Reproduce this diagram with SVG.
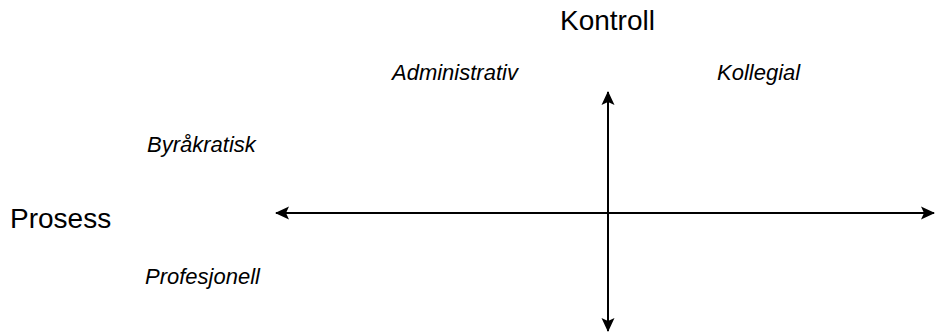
<svg xmlns="http://www.w3.org/2000/svg" width="935" height="333" viewBox="0 0 935 333">
<defs>
<style>
.t{font-family:"Liberation Sans",Arial,sans-serif;fill:#000}
.big{font-size:28px}
.it{font-size:22px;font-style:italic}
.ax{stroke:#000;stroke-width:2;fill:none}
</style>
<marker id="ah" viewBox="0 0 14 14" refX="13" refY="7" markerWidth="14" markerHeight="14" markerUnits="userSpaceOnUse" orient="auto-start-reverse">
<path d="M0,0.5 L14,7 L0,13.5 L3,7 Z" fill="#000"/>
</marker>
</defs>
<g id="connectors">
<line class="ax" x1="276" y1="213" x2="934" y2="213" marker-start="url(#ah)" marker-end="url(#ah)"/>
<line class="ax" x1="608" y1="92" x2="608" y2="331" marker-start="url(#ah)" marker-end="url(#ah)"/>
</g>
<g id="kontroll"><text class="t big" x="560" y="30">Kontroll</text></g>
<g id="prosess"><text class="t big" x="10" y="228">Prosess</text></g>
<g id="administrativ"><text class="t it" x="392" y="80">Administrativ</text></g>
<g id="kollegial"><text class="t it" x="717" y="80">Kollegial</text></g>
<g id="byrakratisk"><text class="t it" x="147" y="152">Byråkratisk</text></g>
<g id="profesjonell"><text class="t it" x="145" y="284">Profesjonell</text></g>
</svg>
